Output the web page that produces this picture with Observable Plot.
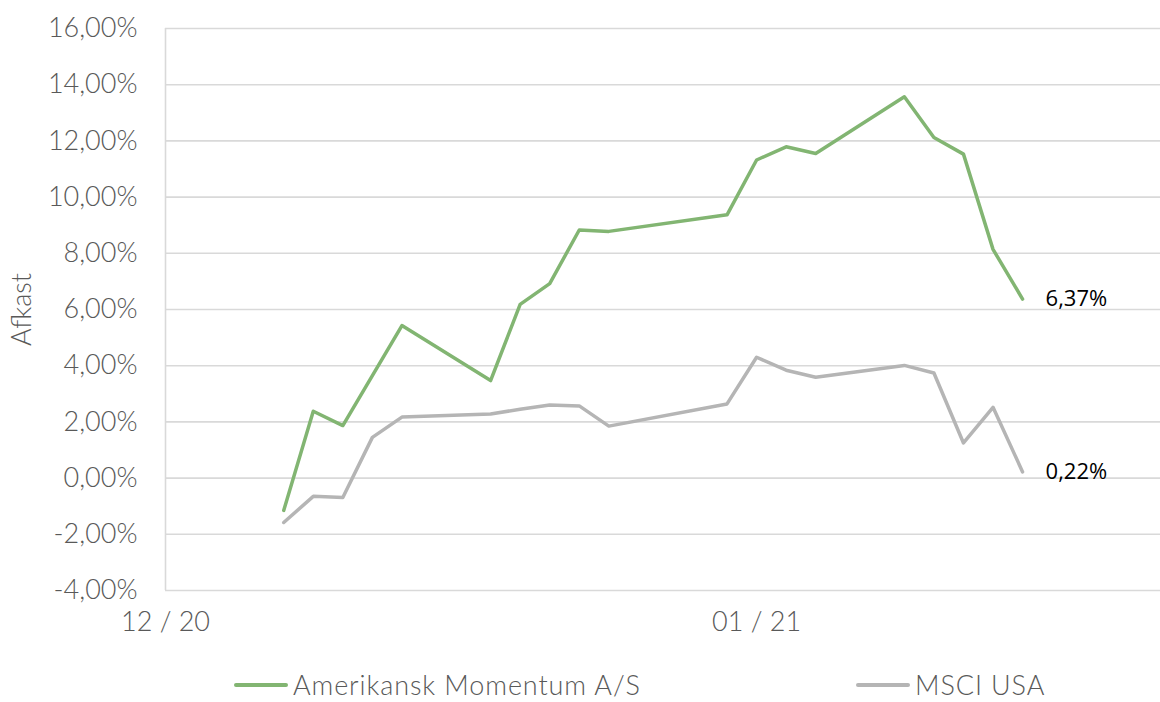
<!DOCTYPE html>
<html><head><meta charset="utf-8">
<script src="https://cdn.jsdelivr.net/npm/d3@7"></script>
<script src="https://cdn.jsdelivr.net/npm/@observablehq/plot@0.6"></script>
<style>
body{margin:0;background:#fff;}
#wrap{position:relative;width:1160px;height:702px;overflow:hidden;font-family:Lato, sans-serif;background:#fff;}
.leg{position:absolute;top:670px;height:30px;line-height:30px;display:flex;align-items:center;font-size:27px;font-weight:300;letter-spacing:0.9px;color:#595959;white-space:nowrap;}
.sw{display:inline-block;width:54px;height:4px;margin-right:5px;border-radius:2px;}
</style></head><body><div id="wrap"></div>
<script>
// trading days (Jan 2021)
const dates = ["2021-01-04","2021-01-05","2021-01-06","2021-01-07","2021-01-08",
  "2021-01-11","2021-01-12","2021-01-13","2021-01-14","2021-01-15",
  "2021-01-19","2021-01-20","2021-01-21","2021-01-22",
  "2021-01-25","2021-01-26","2021-01-27","2021-01-28","2021-01-29"];
const momentum = [-1.15, 2.38, 1.87, 3.65, 5.43, 3.47, 6.18, 6.92, 8.83, 8.78,
  9.37, 11.32, 11.79, 11.55, 13.57, 12.12, 11.53, 8.14, 6.37];
const msci = [-1.58, -0.65, -0.69, 1.45, 2.17, 2.28, 2.45, 2.60, 2.57, 1.85,
  2.64, 4.30, 3.84, 3.59, 4.01, 3.74, 1.25, 2.52, 0.22];
const seriesNames = ["Amerikansk Momentum A/S", "MSCI USA"];
const seriesColors = ["#82b572", "#b5b5b5"];
const yTicks = [-4, -2, 0, 2, 4, 6, 8, 10, 12, 14, 16];
const xTicks = ["2020-12-31", "2021-01-20"];
const xDomain = ["2020-12-31T00:00Z", "2021-02-02T16:00Z"];
const yTitle = "Afkast";

const fmtPct = v => v.toFixed(2).replace(".", ",") + "%";
const rows = [];
dates.forEach((d, i) => {
  rows.push({date: new Date(d), v: momentum[i], s: seriesNames[0]});
  rows.push({date: new Date(d), v: msci[i], s: seriesNames[1]});
});
const lastDate = new Date(dates[dates.length - 1]);
const ends = [
  {date: lastDate, v: momentum[momentum.length - 1]},
  {date: lastDate, v: msci[msci.length - 1]}
];

const chart = Plot.plot({
  width: 1160, height: 660,
  marginTop: 28, marginBottom: 70, marginLeft: 165, marginRight: 0,
  style: {fontFamily: "Lato, sans-serif", fontSize: "27px", fontWeight: 300, color: "#595959", background: "white", overflow: "visible"},
  x: {type: "utc", domain: xDomain.map(d => new Date(d))},
  y: {domain: [-4, 16]},
  color: {domain: seriesNames, range: seriesColors},
  marks: [
    Plot.gridY(yTicks, {stroke: "#d9d9d9", strokeOpacity: 1, strokeWidth: 1.6}),
    Plot.ruleX([new Date(xDomain[0])], {stroke: "#d9d9d9", strokeWidth: 1.6}),
    Plot.axisY(yTicks, {tickSize: 0, tickPadding: 28, tickFormat: fmtPct, label: null, fill: "#595959"}),
    Plot.axisX(xTicks.map(d => new Date(d)), {tickSize: 0, tickPadding: 21, tickFormat: d3.utcFormat("%m / %y"), label: null, fill: "#595959"}),
    Plot.text([yTitle], {frameAnchor: "left", textAnchor: "middle", dx: -143, rotate: -90, text: d => d, fill: "#595959", fontSize: 27}),
    Plot.line(rows, {x: "date", y: "v", stroke: "s", strokeWidth: 3.5, strokeLinejoin: "round", strokeLinecap: "round"}),
    Plot.text(ends, {x: "date", y: "v", text: d => fmtPct(d.v), dx: 23, textAnchor: "start", fill: "#000", fontFamily: "'Open Sans', sans-serif", fontWeight: 400, fontSize: 22})
  ]
});
const wrap = document.getElementById("wrap");
wrap.appendChild(chart);
const legPos = [{sw: 234, label: 293}, {sw: 856, label: 911}];
seriesNames.forEach((n, i) => {
  const el = document.createElement("div");
  el.className = "leg";
  el.style.left = legPos[i].sw + "px";
  el.innerHTML = `<span class="sw" style="background:${seriesColors[i]}"></span><span>${n}</span>`;
  wrap.appendChild(el);
});
</script></body></html>
